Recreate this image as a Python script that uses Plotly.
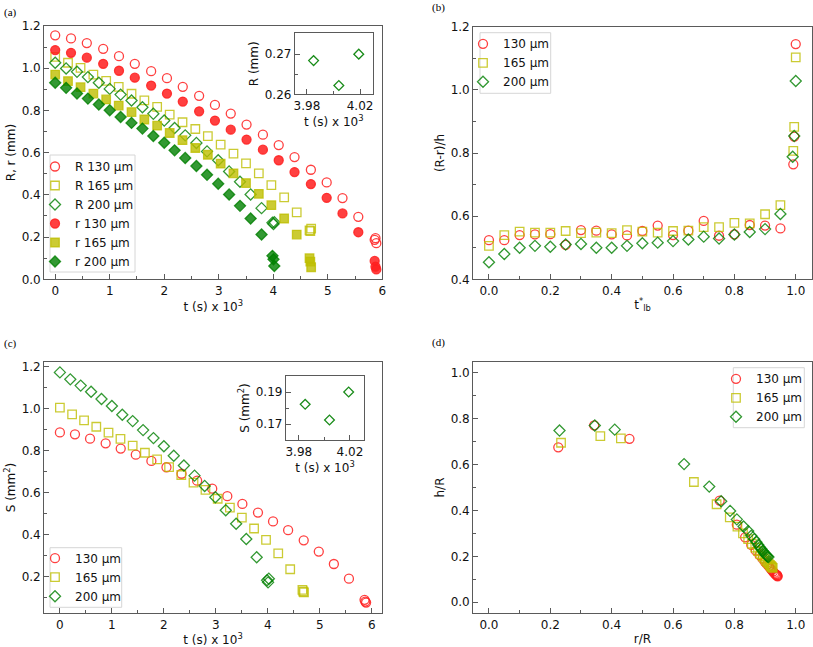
import plotly.graph_objects as go

# ---------------- data ----------------
# panel (a) & (c): time (s x 10^3)
t_130 = [0.0, 0.29, 0.58, 0.88, 1.17, 1.46, 1.76, 2.05, 2.34, 2.64, 2.93, 3.22, 3.51, 3.81,
         4.10, 4.39, 4.69, 4.98, 5.27, 5.56, 5.86, 5.875, 5.89]
t_165 = [0.0, 0.235, 0.465, 0.70, 0.935, 1.165, 1.40, 1.635, 1.87, 2.10, 2.335, 2.57, 2.80,
         3.035, 3.27, 3.50, 3.735, 3.965, 4.20, 4.43, 4.665, 4.68, 4.695]
t_200 = [0.0, 0.20, 0.40, 0.60, 0.80, 1.00, 1.20, 1.40, 1.60, 1.80, 2.00, 2.19, 2.385, 2.59,
         2.785, 2.99, 3.19, 3.39, 3.585, 3.785, 3.985, 4.004, 4.019]

R_130 = [1.156, 1.141, 1.119, 1.092, 1.057, 1.021, 0.986, 0.953, 0.912, 0.869, 0.826, 0.785,
         0.733, 0.685, 0.636, 0.579, 0.519, 0.459, 0.385, 0.296, 0.187, 0.195, 0.171]
r_130 = [1.086, 1.073, 1.050, 1.021, 0.988, 0.955, 0.918, 0.880, 0.842, 0.796, 0.752, 0.709,
         0.662, 0.614, 0.564, 0.508, 0.451, 0.386, 0.312, 0.223, 0.087, 0.060, 0.047]
R_165 = [1.054, 1.026, 1.002, 0.970, 0.940, 0.912, 0.879, 0.848, 0.817, 0.780, 0.744, 0.712,
         0.678, 0.638, 0.595, 0.549, 0.502, 0.446, 0.388, 0.317, 0.232, 0.228, 0.240]
r_165 = [0.970, 0.939, 0.910, 0.880, 0.852, 0.823, 0.792, 0.757, 0.728, 0.693, 0.659, 0.622,
         0.590, 0.548, 0.502, 0.456, 0.405, 0.351, 0.288, 0.212, 0.100, 0.084, 0.057]
R_200 = [1.026, 0.999, 0.983, 0.958, 0.931, 0.902, 0.875, 0.847, 0.815, 0.784, 0.752, 0.717,
         0.682, 0.646, 0.606, 0.564, 0.511, 0.462, 0.402, 0.337, 0.2684, 0.2622, 0.2700]
r_200 = [0.931, 0.907, 0.880, 0.856, 0.828, 0.801, 0.769, 0.741, 0.714, 0.679, 0.647, 0.611,
         0.575, 0.537, 0.495, 0.453, 0.402, 0.348, 0.288, 0.212, 0.111, 0.095, 0.063]

S_130 = [0.887, 0.878, 0.857, 0.835, 0.810, 0.781, 0.751, 0.721, 0.690, 0.657, 0.619, 0.583,
         0.546, 0.505, 0.463, 0.421, 0.373, 0.319, 0.260, 0.190, 0.089, 0.081, 0.076]
S_165 = [1.005, 0.973, 0.944, 0.914, 0.886, 0.856, 0.824, 0.790, 0.759, 0.722, 0.684, 0.648,
         0.613, 0.571, 0.529, 0.481, 0.429, 0.375, 0.311, 0.235, 0.137, 0.129, 0.125]
S_200 = [1.173, 1.140, 1.110, 1.081, 1.046, 1.013, 0.971, 0.941, 0.898, 0.860, 0.821, 0.776,
         0.729, 0.681, 0.632, 0.578, 0.516, 0.452, 0.379, 0.292, 0.1823, 0.1725, 0.190]

# panel (b)
tlb_130 = [0.0, 0.05, 0.10, 0.15, 0.20, 0.25, 0.30, 0.35, 0.40, 0.45, 0.50, 0.55, 0.60, 0.65,
           0.70, 0.75, 0.80, 0.85, 0.90, 0.95, 0.992, 0.995, 1.0]
tlb_165 = [0.0, 0.05, 0.10, 0.15, 0.20, 0.25, 0.30, 0.35, 0.40, 0.45, 0.50, 0.55, 0.60, 0.65,
           0.70, 0.75, 0.80, 0.85, 0.90, 0.95, 0.992, 0.995, 1.0]
tlb_200 = [0.0, 0.05, 0.10, 0.15, 0.20, 0.25, 0.30, 0.35, 0.40, 0.45, 0.50, 0.55, 0.60, 0.65,
           0.70, 0.75, 0.80, 0.85, 0.90, 0.95, 0.990, 0.995, 1.0]
Rr_h_130 = [0.524, 0.524, 0.540, 0.542, 0.543, 0.509, 0.556, 0.554, 0.542, 0.539, 0.553, 0.570,
            0.540, 0.554, 0.585, 0.538, 0.542, 0.572, 0.570, 0.561, 0.764, 0.852, 1.145]
Rr_h_165 = [0.506, 0.540, 0.551, 0.548, 0.548, 0.553, 0.546, 0.548, 0.546, 0.556, 0.551, 0.548,
            0.553, 0.554, 0.565, 0.565, 0.579, 0.577, 0.606, 0.635, 0.807, 0.883, 1.103]
Rr_h_200 = [0.454, 0.480, 0.500, 0.506, 0.503, 0.510, 0.512, 0.500, 0.500, 0.506, 0.514, 0.516,
            0.521, 0.526, 0.535, 0.529, 0.542, 0.550, 0.559, 0.607, 0.788, 0.854, 1.028]

# panel (d)
rR_130 = [0.941, 0.940, 0.938, 0.936, 0.933, 0.930, 0.926, 0.922, 0.918, 0.913, 0.907, 0.900,
          0.892, 0.882, 0.870, 0.855, 0.835, 0.808, 0.752, 0.458, 0.343, 0.226, 0.939]
hR_130 = [0.113, 0.115, 0.117, 0.120, 0.123, 0.128, 0.134, 0.140, 0.147, 0.155, 0.165, 0.175,
          0.190, 0.205, 0.225, 0.250, 0.283, 0.338, 0.443, 0.712, 0.771, 0.675, 0.118]
rR_165 = [0.925, 0.923, 0.921, 0.919, 0.916, 0.912, 0.908, 0.903, 0.898, 0.892, 0.885, 0.877,
          0.868, 0.857, 0.845, 0.828, 0.810, 0.785, 0.742, 0.668, 0.430, 0.363, 0.235]
hR_165 = [0.150, 0.152, 0.155, 0.158, 0.163, 0.168, 0.174, 0.181, 0.190, 0.200, 0.210, 0.223,
          0.238, 0.255, 0.275, 0.300, 0.330, 0.370, 0.427, 0.524, 0.714, 0.724, 0.695]
rR_200 = [0.911, 0.908, 0.906, 0.903, 0.900, 0.896, 0.892, 0.888, 0.883, 0.878, 0.872, 0.865,
          0.855, 0.845, 0.830, 0.808, 0.786, 0.757, 0.718, 0.636, 0.410, 0.345, 0.230]
hR_200 = [0.197, 0.199, 0.202, 0.206, 0.211, 0.217, 0.224, 0.232, 0.240, 0.250, 0.262, 0.275,
          0.290, 0.310, 0.330, 0.361, 0.398, 0.440, 0.504, 0.602, 0.752, 0.770, 0.748]

labels = ["130 µm", "165 µm", "200 µm"]

# ---------------- style ----------------
W, H = 813, 647
RED = "rgba(255,30,30,0.85)"
YEL = "rgba(190,190,0,0.8)"
GRN = "rgba(0,128,0,0.8)"
FRAME = "#5a5a5a"
FONT = "DejaVu Sans"


def px_dom(a, b, total, flip=False):
    if flip:
        return [1 - b / total, 1 - a / total]
    return [a / total, b / total]


def axis(dom, rng, dtick, minor, anchor, fmt=None, tickvals=None, minorvals=None, fs=12):
    d = dict(domain=dom, range=rng, anchor=anchor, showline=True, linecolor=FRAME,
             linewidth=1.3, mirror=True, ticks="inside", ticklen=5, tickwidth=1,
             tickcolor=FRAME, showgrid=False, zeroline=False, automargin=False,
             tickfont=dict(family=FONT, size=fs, color="#111"),
             title=dict(font=dict(family=FONT, size=fs, color="#111"), standoff=3))
    if tickvals is not None:
        d["tickvals"] = tickvals
        d["ticktext"] = [fmt.format(v) for v in tickvals]
        d["minor"] = dict(ticks="inside", ticklen=3, tickcolor=FRAME, tickvals=minorvals)
    else:
        d["dtick"] = dtick
        d["tick0"] = 0
        d["tickformat"] = fmt
        d["minor"] = dict(ticks="inside", ticklen=3, tickcolor=FRAME, dtick=minor, tick0=0)
    return d


fig = go.Figure()


def add(x, y, xa, ya, sym, color, size, name=None, legend=None, filled=False):
    fig.add_trace(go.Scatter(
        x=x, y=y, xaxis=xa, yaxis=ya, mode="markers", name=name,
        showlegend=name is not None, legend=legend,
        marker=dict(symbol=sym if filled else sym + "-open", size=size,
                    color=color, line=dict(width=1.3, color=color))))


# (a)
add(t_130, R_130, "x", "y", "circle", RED, 9, "R 130 µm", "legend")
add(t_165, R_165, "x", "y", "square", YEL, 8.5, "R 165 µm", "legend")
add(t_200, R_200, "x", "y", "diamond", GRN, 8.5, "R 200 µm", "legend")
add(t_130, r_130, "x", "y", "circle", RED, 9, "r 130 µm", "legend", True)
add(t_165, r_165, "x", "y", "square", YEL, 8.5, "r 165 µm", "legend", True)
add(t_200, r_200, "x", "y", "diamond", GRN, 8.5, "r 200 µm", "legend", True)
# inset (a)
add(t_200[-3:], R_200[-3:], "x5", "y5", "diamond", "rgba(0,128,0,0.9)", 7.5)

# (b)
add(tlb_130, Rr_h_130, "x2", "y2", "circle", RED, 9, labels[0], "legend2")
add(tlb_165, Rr_h_165, "x2", "y2", "square", YEL, 8.5, labels[1], "legend2")
add(tlb_200, Rr_h_200, "x2", "y2", "diamond", GRN, 8.5, labels[2], "legend2")

# (c)
add(t_130, S_130, "x3", "y3", "circle", RED, 9, labels[0], "legend3")
add(t_165, S_165, "x3", "y3", "square", YEL, 8.5, labels[1], "legend3")
add(t_200, S_200, "x3", "y3", "diamond", GRN, 8.5, labels[2], "legend3")
# inset (c)
add(t_200[-3:], S_200[-3:], "x6", "y6", "diamond", "rgba(0,128,0,0.9)", 7.5)

# (d)
add(rR_130, hR_130, "x4", "y4", "circle", RED, 9, labels[0], "legend4")
add(rR_165, hR_165, "x4", "y4", "square", YEL, 8.5, labels[1], "legend4")
add(rR_200, hR_200, "x4", "y4", "diamond", GRN, 8.5, labels[2], "legend4")

xt = "t (s) x 10<sup>3</sup>"

xa = axis(px_dom(44.3, 382.3, W), [-0.2, 6.0], 1, 0.5, "y", "d")
xa["title"]["text"] = xt
ya = axis(px_dom(26, 279.3, H, True), [0, 1.2], 0.2, 0.1, "x", ".1f")
ya["title"]["text"] = "R, r (mm)"

xb = axis(px_dom(473.3, 811.7, W), [-0.051, 1.052], 0.2, 0.1, "y2", ".1f")
xb["title"]["text"] = "t<sup>*</sup><sub>lb</sub>"
yb = axis(px_dom(26.7, 279.3, H, True), [0.4, 1.2], 0.2, 0.1, "x2", ".1f")
yb["title"]["text"] = "(R-r)/h"

xc = axis(px_dom(44.3, 381.7, W), [-0.30, 6.19], 1, 0.5, "y3", "d")
xc["title"]["text"] = xt
yc = axis(px_dom(361.7, 613.3, H, True), [0.025, 1.224], 0.2, 0.1, "x3", ".1f")
yc["title"]["text"] = "S (mm<sup>2</sup>)"

xd = axis(px_dom(473.3, 811.7, W), [-0.051, 1.052], 0.2, 0.1, "y4", ".1f")
xd["title"]["text"] = "r/R"
yd = axis(px_dom(361.7, 613.3, H, True), [-0.048, 1.048], 0.2, 0.1, "x4", ".1f")
yd["title"]["text"] = "h/R"

xi1 = axis(px_dom(295, 372.7, W), [3.971, 4.0295], None, None, "y5", "{:.2f}",
           [3.98, 4.02], [4.00])
xi1["title"]["text"] = xt
yi1 = axis(px_dom(33.3, 94.3, H, True), [0.26, 0.2752], None, None, "x5", "{:.2f}",
           [0.26, 0.27], [0.265])
yi1["title"]["text"] = "R (mm)"

xi2 = axis(px_dom(286, 364, W), [3.970, 4.031], None, None, "y6", "{:.2f}",
           [3.98, 4.02], [4.00])
xi2["title"]["text"] = xt
yi2 = axis(px_dom(376, 440, H, True), [0.160, 0.200], None, None, "x6", "{:.2f}",
           [0.17, 0.19], [0.18])
yi2["title"]["text"] = "S (mm<sup>2</sup>)"


def leg(lx, my):
    # lx: pixel left of legend; my: pixel y of the first legend marker
    return dict(x=lx / W, y=1 - (my - 14) / H, xanchor="left", yanchor="top",
                bgcolor="rgba(0,0,0,0)", borderwidth=0, itemwidth=30, tracegroupgap=0,
                font=dict(family=FONT, size=12, color="#111"))


fig.update_layout(
    template="none",
    width=W, height=H, margin=dict(l=0, r=0, t=0, b=0, autoexpand=False),
    plot_bgcolor="white", paper_bgcolor="white",
    xaxis=xa, yaxis=ya, xaxis2=xb, yaxis2=yb, xaxis3=xc, yaxis3=yc,
    xaxis4=xd, yaxis4=yd, xaxis5=xi1, yaxis5=yi1, xaxis6=xi2, yaxis6=yi2,
    legend=leg(35, 166), legend2=leg(463, 43.3), legend3=leg(35, 557.7),
    legend4=leg(716, 378.3),
)

# legend frames
for x0, y0, x1, y1 in [(50, 155, 135, 272), (480, 32.7, 550.7, 93.3),
                       (50, 547.7, 121.7, 607.3), (733.3, 367.7, 804.3, 427.7)]:
    fig.add_shape(type="rect", xref="paper", yref="paper", x0=x0 / W, x1=x1 / W,
                  y0=1 - y1 / H, y1=1 - y0 / H, fillcolor="rgba(255,255,255,0.85)",
                  line=dict(color="#d6d6d6", width=1), layer="above")

for txt, x, y in [("(a)", 2, 12), ("(b)", 430, 8), ("(c)", 2, 343), ("(d)", 430, 342)]:
    fig.add_annotation(text=txt, x=x / W, y=1 - y / H, xref="paper", yref="paper",
                       xanchor="left", yanchor="middle", showarrow=False,
                       font=dict(family="Liberation Serif", size=11, color="black"))

fig.write_html("out.html", config={"displayModeBar": False},
               post_script="document.body.style.margin='0px';")
